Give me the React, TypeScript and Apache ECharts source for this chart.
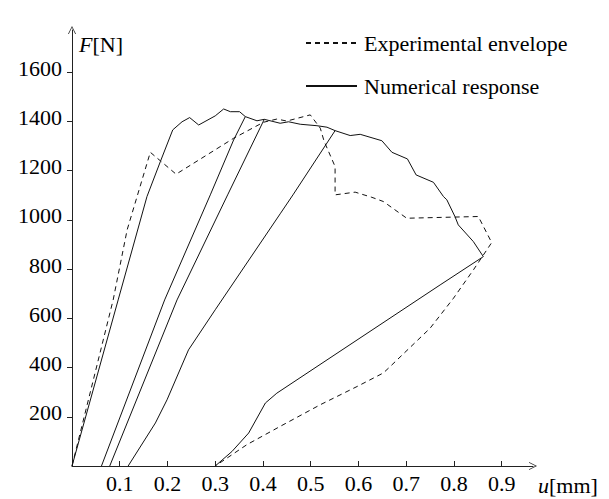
import React, { useEffect, useRef } from 'react';
import * as echarts from 'echarts';

const SERIF = "'Liberation Serif', 'Times New Roman', Times, serif";

// Tick labels
const xTicks = [0.1, 0.2, 0.3, 0.4, 0.5, 0.6, 0.7, 0.8, 0.9];
const yTicks = [200, 400, 600, 800, 1000, 1200, 1400, 1600];

// Experimental envelope (dashed)
const expU = [0, 0.0862, 0.1155, 0.164, 0.218, 0.3385, 0.401, 0.429, 0.45, 0.499, 0.52, 0.528, 0.551, 0.551, 0.593, 0.628, 0.652, 0.701, 0.851, 0.879, 0.841, 0.799, 0.75, 0.663, 0.652, 0.597, 0.52, 0.436, 0.3665, 0.3];
const expF = [0, 675, 960, 1275, 1186, 1332, 1397, 1410, 1402, 1427, 1373, 1320, 1217, 1102, 1113, 1092, 1075, 1007, 1014, 908, 798, 682, 560, 398, 378, 323, 249, 161, 87, 0];

// Numerical response: loading envelope
const numU = [0, 0.0967, 0.157, 0.185, 0.211, 0.2305, 0.2464, 0.2653, 0.3, 0.3176, 0.3316, 0.351, 0.363, 0.3874, 0.4027, 0.436, 0.4536, 0.478, 0.513, 0.534, 0.551, 0.5826, 0.6036, 0.649, 0.67, 0.7025, 0.7207, 0.757, 0.778, 0.785, 0.802, 0.809, 0.8406, 0.8615];
const numF = [0, 675, 1095, 1237, 1366, 1399, 1416, 1386, 1423, 1451, 1440, 1440, 1420, 1403, 1409, 1393, 1399, 1389, 1383, 1377, 1363, 1343, 1348, 1322, 1275, 1248, 1183, 1153, 1095, 1082, 1014, 980, 912, 851];

// Numerical response: unloading branches
const un1U = [0.363, 0.3385, 0.2897, 0.194, 0.0617];
const un1F = [1420, 1325, 1102, 675, 0];
const un2U = [0.4027, 0.326, 0.22, 0.079];
const un2F = [1409, 1102, 675, 0];
const un3U = [0.551, 0.4628, 0.436, 0.3, 0.244, 0.199, 0.1747, 0.1176];
const un3F = [1363, 1102, 1025, 635, 472, 269, 175, 0];
const un4U = [0.8615, 0.771, 0.429, 0.405, 0.37, 0.335, 0.3];
const un4F = [851, 736, 296, 256, 134, 59, 0];

const zip = (u: number[], f: number[]) => u.map((v, i) => [v, f[i]]);

const EXP = 'Experimental envelope';
const NUM = 'Numerical response';
const ARROW = 'path://M0,10 L5,0 L10,10 L9,10 L5,2 L1,10 Z';

const lineSeries = (name: string, data: number[][], dashed: boolean) => ({
  name,
  type: 'line',
  data,
  symbol: 'none',
  showSymbol: false,
  silent: true,
  lineStyle: { color: '#111', width: 1, type: dashed ? [5, 4] : 'solid' },
  itemStyle: { color: '#111' },
  z: dashed ? 3 : 2,
});

export default function App() {
  const ref = useRef<HTMLDivElement>(null);
  useEffect(() => {
    const chart = echarts.init(ref.current!, null, { renderer: 'svg' });
    chart.setOption({
      animation: false,
      backgroundColor: '#fff',
      grid: { left: 72, right: 76, top: 30, bottom: 33, containLabel: false },
      legend: {
        orient: 'vertical',
        left: 305,
        top: 32,
        padding: 0,
        itemWidth: 51,
        itemHeight: 22,
        itemGap: 21,
        selectedMode: false,
        itemStyle: { opacity: 0 },
        textStyle: { fontFamily: SERIF, fontSize: 22, color: '#000', padding: [0, 0, 6, 2] },
        data: [EXP, NUM],
      },
      xAxis: {
        type: 'value',
        min: 0,
        max: 0.9655,
        splitLine: { show: false },
        axisLine: {
          show: true,
          onZero: false,
          lineStyle: { color: '#222', width: 1 },
          symbol: ['none', ARROW],
          symbolSize: [8, 10],
        },
        axisTick: { show: true, inside: true, length: 5, customValues: xTicks, lineStyle: { color: '#222' } },
        axisLabel: {
          customValues: xTicks,
          margin: 6,
          fontFamily: SERIF,
          fontSize: 22,
          color: '#000',
          formatter: (v: number) => v.toFixed(1),
        },
      },
      yAxis: {
        type: 'value',
        min: 0,
        max: 1772,
        splitLine: { show: false },
        axisLine: {
          show: true,
          onZero: false,
          lineStyle: { color: '#222', width: 1 },
          symbol: ['none', ARROW],
          symbolSize: [8, 10],
        },
        axisTick: { show: true, inside: false, length: 5, customValues: yTicks, lineStyle: { color: '#222' } },
        axisLabel: {
          customValues: yTicks,
          margin: 10,
          fontFamily: SERIF,
          fontSize: 22,
          color: '#000',
          verticalAlign: 'bottom',
          lineHeight: 8,
          formatter: (v: number) => String(v),
        },
      },
      graphic: [
        {
          type: 'text',
          left: 79,
          top: 33,
          style: {
            text: '{i|F}[N]',
            fontFamily: SERIF,
            fontSize: 22,
            fill: '#000',
            rich: { i: { fontStyle: 'italic', fontFamily: SERIF, fontSize: 22 } },
          },
        },
        {
          type: 'text',
          left: 538,
          top: 474,
          style: {
            text: '{i|u}[mm]',
            fontFamily: SERIF,
            fontSize: 22,
            fill: '#000',
            rich: { i: { fontStyle: 'italic', fontFamily: SERIF, fontSize: 22 } },
          },
        },
      ],
      series: [
        lineSeries(EXP, zip(expU, expF), true),
        lineSeries(NUM, zip(numU, numF), false),
        lineSeries(NUM, zip(un1U, un1F), false),
        lineSeries(NUM, zip(un2U, un2F), false),
        lineSeries(NUM, zip(un3U, un3F), false),
        lineSeries(NUM, zip(un4U, un4F), false),
      ],
    });
    return () => chart.dispose();
  }, []);
  return <div ref={ref} style={{ position: 'absolute', left: 0, top: 0, width: 609, height: 499 }} />;
}
